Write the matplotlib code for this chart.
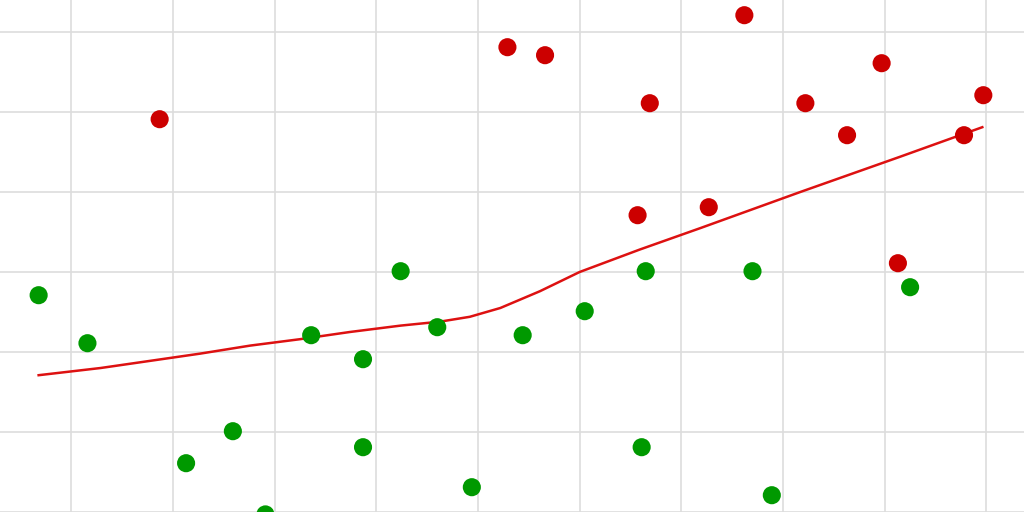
import matplotlib
matplotlib.use('Agg')
import matplotlib.pyplot as plt

# data in grid units (one grid cell = 1)
red_x = [1.87, 5.29, 5.66, 7.62, 6.69, 6.57, 7.27, 8.22, 8.63, 8.97, 9.13, 9.78, 9.97]
red_y = [4.91, 5.81, 5.71, 6.21, 5.11, 3.71, 3.81, 5.11, 4.71, 5.61, 3.11, 4.71, 5.21]

green_x = [0.68, 1.16, 2.13, 2.59, 2.91, 3.36, 3.87, 3.87, 4.24, 4.60, 4.94, 5.44, 6.05, 6.61, 6.65, 7.70, 7.89, 9.25]
green_y = [2.71, 2.11, 0.61, 1.01, -0.03, 2.21, 1.91, 0.81, 3.01, 2.31, 0.31, 2.21, 2.51, 0.81, 3.01, 3.01, 0.21, 2.81]

# fitted trend curve
line_x = [0.68, 1.29, 1.78, 2.27, 2.76, 3.25, 3.74, 4.24, 4.63, 4.92, 5.22, 5.61, 6.00, 6.59, 7.19, 8.17, 9.15, 9.96]
line_y = [1.71, 1.80, 1.89, 1.98, 2.08, 2.16, 2.25, 2.33, 2.38, 2.44, 2.55, 2.76, 3.00, 3.28, 3.55, 4.00, 4.44, 4.81]

fig = plt.figure(figsize=(10.24, 5.12), dpi=100)
ax = fig.add_axes([0, 0, 1, 1])
ax.set_xlim(0.30, 10.37)
ax.set_ylim(0, 6.4)

ax.set_xticks(range(1, 11))
ax.set_yticks(range(0, 7))
ax.grid(True, color='#dddddd', linewidth=1.2)
ax.set_axisbelow(True)
ax.tick_params(length=0, labelbottom=False, labelleft=False)
for s in ax.spines.values():
    s.set_visible(False)

ax.plot(line_x, line_y, color='#dd1111', lw=1.8, zorder=2, solid_joinstyle='round')
ax.scatter(red_x, red_y, s=170, color='#cc0000', edgecolors='none', zorder=3)
ax.scatter(green_x, green_y, s=170, color='#009900', edgecolors='none', zorder=3)

fig.savefig('out.png', dpi=100, facecolor='white')
